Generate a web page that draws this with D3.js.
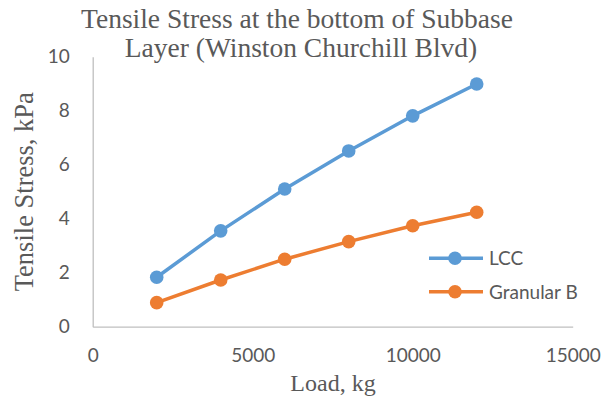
<!DOCTYPE html>
<html>
<head>
<meta charset="utf-8">
<script src="https://cdn.jsdelivr.net/npm/d3@7"></script>
<style>
  html, body { margin: 0; padding: 0; background: #fff; }
  svg { display: block; }
</style>
</head>
<body>
<svg id="chart" width="616" height="399"></svg>
<script>
// Load steps (kg) and tensile stress (kPa) at the bottom of the subbase
const loads = [2000, 4000, 6000, 8000, 10000, 12000];
const lccStress = [1.83, 3.55, 5.10, 6.51, 7.81, 8.99];
const granularStress = [0.89, 1.73, 2.50, 3.15, 3.74, 4.24];
const seriesNames = ["LCC", "Granular B"];
const seriesColors = ["#5B9BD5", "#ED7D31"];
const xTicks = [0, 5000, 10000, 15000];
const yTicks = [0, 2, 4, 6, 8, 10];

const svg = d3.select("#chart");
const textColor = "#595959";
const serif = "'Liberation Serif', 'Times New Roman', serif";
const sans = "Lato, 'Open Sans', sans-serif";

const x = d3.scaleLinear().domain([0, 15000]).range([92.7, 572.7]);
const y = d3.scaleLinear().domain([0, 10]).range([326.7, 56.7]);

// Title
const title = svg.append("text")
  .attr("text-anchor", "middle")
  .attr("font-family", serif)
  .attr("font-size", 27.5)
  .attr("fill", textColor);
title.append("tspan").attr("x", 297).attr("y", 28).text("Tensile Stress at the bottom of Subbase");
title.append("tspan").attr("x", 301).attr("y", 57).text("Layer (Winston Churchill Blvd)");

// Axes
const xAxis = d3.axisBottom(x).tickValues(xTicks).tickSize(0).tickPadding(22).tickFormat(d3.format("d"));
const yAxis = d3.axisLeft(y).tickValues(yTicks).tickSize(0).tickPadding(23).tickFormat(d3.format("d"));

const gx = svg.append("g").attr("transform", `translate(0,${y(0)})`).call(xAxis);
const gy = svg.append("g").attr("transform", `translate(${x(0)},0)`).call(yAxis);

[gx, gy].forEach(g => {
  g.select(".domain").attr("stroke", "#BFBFBF").attr("stroke-width", 1.3);
  g.selectAll(".tick text")
    .attr("font-family", sans)
    .attr("font-size", 19)
    .attr("fill", textColor);
});

// Axis titles
svg.append("text")
  .attr("x", 333).attr("y", 391)
  .attr("text-anchor", "middle")
  .attr("font-family", serif).attr("font-size", 24)
  .attr("fill", textColor)
  .text("Load, kg");

svg.append("text")
  .attr("transform", `translate(33,${(y(0) + y(10)) / 2}) rotate(-90)`)
  .attr("text-anchor", "middle")
  .attr("font-family", serif).attr("font-size", 26.5)
  .attr("fill", textColor)
  .text("Tensile Stress, kPa");

// Series
const series = [lccStress, granularStress].map((vals, i) => ({
  name: seriesNames[i],
  color: seriesColors[i],
  points: loads.map((l, j) => ({ load: l, stress: vals[j] }))
}));

const line = d3.line().x(d => x(d.load)).y(d => y(d.stress));

const gSeries = svg.append("g");
series.forEach(s => {
  gSeries.append("path")
    .datum(s.points)
    .attr("fill", "none")
    .attr("stroke", s.color)
    .attr("stroke-width", 3.5)
    .attr("stroke-linejoin", "round")
    .attr("d", line);
  gSeries.selectAll(null)
    .data(s.points)
    .join("circle")
    .attr("cx", d => x(d.load))
    .attr("cy", d => y(d.stress))
    .attr("r", 6.8)
    .attr("fill", s.color);
});

// Legend
const legend = svg.append("g");
series.forEach((s, i) => {
  const ly = 258.3 + i * 33.4;
  legend.append("line")
    .attr("x1", 429).attr("x2", 483)
    .attr("y1", ly).attr("y2", ly)
    .attr("stroke", s.color).attr("stroke-width", 3.5);
  legend.append("circle")
    .attr("cx", 455).attr("cy", ly).attr("r", 6.8)
    .attr("fill", s.color);
  legend.append("text")
    .attr("x", 489).attr("y", ly + 7)
    .attr("font-family", sans).attr("font-size", 19)
    .attr("fill", textColor)
    .text(s.name);
});
</script>
</body>
</html>
